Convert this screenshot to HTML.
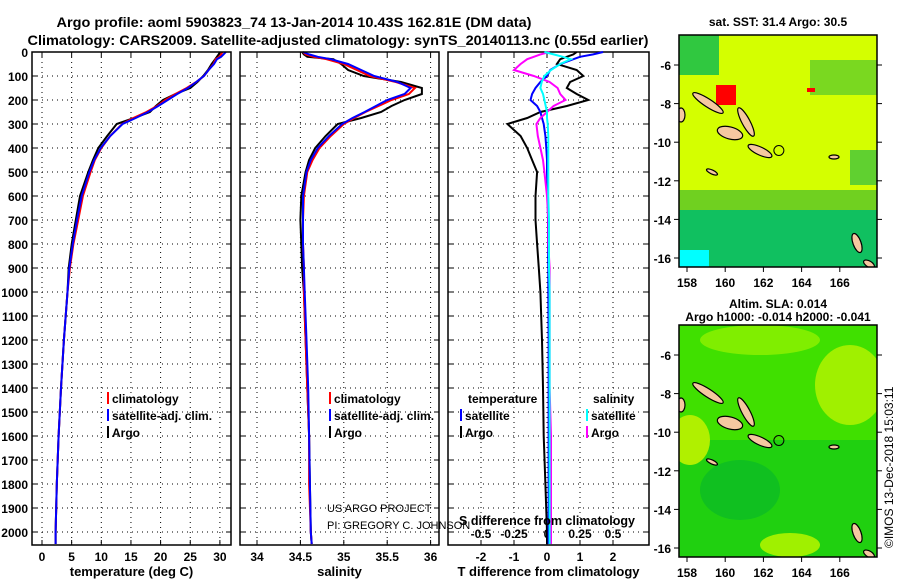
<!DOCTYPE html>
<html><head><meta charset="utf-8"><style>
body{margin:0;background:#fff;}
svg text{font-family:"Liberation Sans",sans-serif;font-weight:bold;fill:#000;}
</style></head><body>
<svg id="s" width="900" height="580" viewBox="0 0 900 580" xmlns="http://www.w3.org/2000/svg">
<text x="294" y="27" font-size="14" text-anchor="middle" textLength="475" lengthAdjust="spacingAndGlyphs">Argo profile: aoml 5903823_74 13-Jan-2014 10.43S 162.81E (DM data)</text>
<text x="338" y="45" font-size="14" text-anchor="middle" textLength="621" lengthAdjust="spacingAndGlyphs">Climatology: CARS2009. Satellite-adjusted climatology: synTS_20140113.nc (0.55d earlier)</text>
<g id="maps"></g>
<g id="plots"></g>
</svg>
<script>
// ---- data ----
const depths   = [0,10,20,30,50,75,100,125,150,175,200,225,250,275,300,350,400,450,500,600,700,800,900,1000,1200,1400,1600,1800,2000,2050];
const tempArgo = [30,29.8,29.5,29.2,28.6,28,27.2,26.2,25,22.5,20.4,19.2,18.2,15.5,12.6,11,9.5,8.6,7.8,6.4,5.7,5.0,4.5,4.3,3.7,3.2,2.8,2.5,2.3,2.3];
const tempClim = [30.4,30.2,29.9,29.3,28.9,28.1,27.3,26,24.4,22.5,20.8,19.4,17.6,15.4,13.5,11.5,10.0,8.9,8.2,6.9,6.1,5.3,4.7,4.3,3.7,3.2,2.8,2.5,2.3,2.3];
const tempSat  = [31,30.6,30.2,29.5,29,28.1,27.3,26,24.6,22.8,21.2,19.6,17.9,15.8,13.6,11.5,9.9,8.8,8.0,6.7,5.9,5.2,4.6,4.3,3.7,3.2,2.8,2.5,2.3,2.3];
const salArgo  = [34.52,34.54,34.58,34.88,34.97,35.05,35.23,35.66,35.9,35.9,35.7,35.55,35.43,35.2,34.93,34.79,34.67,34.6,34.56,34.51,34.5,34.51,34.52,34.54,34.56,34.58,34.6,34.61,34.62,34.63];
const salClim  = [34.53,34.56,34.65,34.8,35.0,35.15,35.3,35.6,35.82,35.75,35.55,35.4,35.25,35.12,35.0,34.85,34.72,34.64,34.58,34.54,34.53,34.53,34.54,34.54,34.56,34.58,34.6,34.6,34.62,34.63];
const salSat   = [34.53,34.6,34.7,34.85,35.05,35.2,35.35,35.62,35.77,35.7,35.5,35.37,35.24,35.1,34.98,34.83,34.7,34.62,34.57,34.53,34.53,34.53,34.54,34.55,34.57,34.59,34.6,34.61,34.62,34.63];
const dTArgo   = [0.9,0.8,0.6,0.4,0.3,0.9,1.1,0.7,0.6,0.9,1.25,0.6,-0.2,-0.6,-1.2,-0.8,-0.6,-0.45,-0.3,-0.35,-0.35,-0.3,-0.25,-0.2,-0.15,-0.12,-0.1,-0.05,0,0];
const dTSat    = [1.7,1.4,1.0,0.8,0.4,0.1,0,-0.2,-0.35,-0.45,-0.5,-0.3,-0.2,-0.15,-0.1,-0.05,-0.02,0,0,0.02,0.03,0.03,0.04,0.04,0.05,0.05,0.05,0.05,0.05,0.05];
const dSArgo   = [0.02,-0.05,-0.1,-0.15,-0.2,-0.25,-0.1,0.02,0.08,0.1,0.14,0.05,0,-0.05,-0.08,-0.07,-0.05,-0.03,-0.02,0,0.01,0.01,0.02,0.02,0.02,0.02,0.03,0.03,0.03,0.03];
const dSSat    = [-0.02,0.05,0.12,0.18,0.1,0.03,-0.02,-0.04,-0.05,-0.03,-0.02,-0.01,0,0,0.005,0.01,0.01,0.01,0.01,0.01,0.015,0.015,0.015,0.02,0.02,0.02,0.02,0.02,0.02,0.02];
const depthTicks = [0,100,200,300,400,500,600,700,800,900,1000,1100,1200,1300,1400,1500,1600,1700,1800,1900,2000];
const tTicks = [0,5,10,15,20,25,30];
const sTicks = [34,34.5,35,35.5,36];
const dTTicks = [-2,-1,0,1,2];
const dSTicks = [-0.5,-0.25,0,0.25,0.5];
const dSLabels = ["-0.5","-0.25","0","0.25","0.5"];

const NS="http://www.w3.org/2000/svg";
function el(tag,attrs,parent,txt){const e=document.createElementNS(NS,tag);for(const k in attrs)e.setAttribute(k,attrs[k]);if(txt!==undefined)e.textContent=txt;parent.appendChild(e);return e;}
const plots=document.getElementById('plots');
const Y=d=>52+d*0.24;
const TOP=52,BOT=545;
const xT=t=>42+t*5.93;
const xS=s=>257+(s-34)*86.8;
const xdT=t=>547+t*33;
const xdS=s=>547+s*132;

depthTicks.forEach(d=>{
  const t=el('text',{x:28,y:Y(d)+5,'font-size':12,'text-anchor':'end'},plots,String(d));
  
  
});

function panel(x0,x1,name,xf,ticks,labels,title,series){
  const g=el('g',{},plots);
  
  
  depthTicks.forEach(d=>{ if(d>0) el('line',{x1:x0,x2:x1,y1:Y(d),y2:Y(d),stroke:'#000','stroke-width':1,'stroke-dasharray':'1,4'},g);
    el('line',{x1:x0,x2:x0+5,y1:Y(d),y2:Y(d),stroke:'#000'},g);
    el('line',{x1:x1-5,x2:x1,y1:Y(d),y2:Y(d),stroke:'#000'},g);});
  ticks.forEach((v,i)=>{const x=xf(v);
    el('line',{x1:x,x2:x,y1:TOP,y2:BOT,stroke:'#000','stroke-dasharray':'1,4'},g);
    el('line',{x1:x,x2:x,y1:BOT,y2:BOT-5,stroke:'#000'},g);
    el('line',{x1:x,x2:x,y1:TOP,y2:TOP+5,stroke:'#000'},g);
    const t=el('text',{x:x,y:561,'font-size':12,'text-anchor':'middle'},g,labels?labels[i]:String(v));
    
    
  });
  series.forEach(s=>{
    const pts=depths.map((d,i)=>xf(s.v[i]).toFixed(1)+','+Y(d).toFixed(1)).join(' ');
    const p=el('polyline',{points:pts,fill:'none',stroke:s.c,'stroke-width':2},g);
    
    
  });
  el('rect',{x:x0,y:TOP,width:x1-x0,height:BOT-TOP,fill:'none',stroke:'#000','stroke-width':1.5},g);
  const tt=el('text',{x:(x0+x1)/2,y:576,'font-size':13,'text-anchor':'middle'},g,title);
  
  
  return g;
}
panel(32,231,'temperature-panel',xT,tTicks,null,'temperature (deg C)',
 [{v:tempArgo,c:'#000',n:'argo-temperature-line'},{v:tempClim,c:'#f00',n:'climatology-temperature-line'},{v:tempSat,c:'#00f',n:'satellite-temperature-line'}]);
panel(240,439,'salinity-panel',xS,sTicks,null,'salinity',
 [{v:salArgo,c:'#000',n:'argo-salinity-line'},{v:salClim,c:'#f00',n:'climatology-salinity-line'},{v:salSat,c:'#00f',n:'satellite-salinity-line'}]);
const p3=panel(448,649,'difference-panel',xdT,dTTicks,null,'T difference from climatology',[]);
dSTicks.forEach((v,i)=>{const t=el('text',{x:xdS(v),y:538,'font-size':12,'text-anchor':'middle'},p3,dSLabels[i]);
 
 });
[{v:dTArgo,f:xdT,c:'#000',n:'argo-t-diff-line'},{v:dTSat,f:xdT,c:'#00f',n:'satellite-t-diff-line'},{v:dSArgo,f:xdS,c:'#f0f',n:'argo-s-diff-line'},{v:dSSat,f:xdS,c:'#0ff',n:'satellite-s-diff-line'}].forEach(s=>{
  const pts=depths.map((d,i)=>s.f(s.v[i]).toFixed(1)+','+Y(d).toFixed(1)).join(' ');
  const p=el('polyline',{points:pts,fill:'none',stroke:s.c,'stroke-width':2},p3);
  
  
});
function legend(x,y,c,txt,g){el('rect',{x:x,y:y-11,width:2,height:12,fill:c},g);const t=el('text',{x:x+5,y:y,'font-size':12},g,txt);
 
 }
legend(107,403,'#f00','climatology',plots);legend(107,420,'#00f','satellite-adj. clim.',plots);legend(107,437,'#000','Argo',plots);
legend(329,403,'#f00','climatology',plots);legend(329,420,'#00f','satellite-adj. clim.',plots);legend(329,437,'#000','Argo',plots);
el('text',{x:468,y:403,'font-size':12},plots,'temperature');
legend(460,420,'#00f','satellite',plots);legend(460,437,'#000','Argo',plots);
el('text',{x:593,y:403,'font-size':12},plots,'salinity');
legend(586,420,'#0ff','satellite',plots);legend(586,437,'#f0f','Argo',plots);
el('text',{x:459,y:525,'font-size':12.5,textLength:176,lengthAdjust:'spacingAndGlyphs'},plots,'S difference from climatology');
const c1=el('text',{x:327,y:512,'font-size':11,style:'font-weight:normal'},plots,'US ARGO PROJECT');


el('text',{x:327,y:529,'font-size':11,style:'font-weight:normal'},plots,'PI: GREGORY C. JOHNSON');

// ---- maps ----
const maps=document.getElementById('maps');
const lonTicks=[158,160,162,164,166];
const latTicks=[-6,-8,-10,-12,-14,-16];
function mapPanel(y0,name,base,patches,title1,title2){
  const g=el('g',{},maps);
  
  
  const X=l=>687+(l-158)*19.1, YY=a=>y0+30+(-6-a)*19.3;
  const cid='clip'+y0;
  const cp=el('clipPath',{id:cid},g);el('rect',{x:679,y:y0,width:198,height:232},cp);
  const inner=el('g',{'clip-path':'url(#'+cid+')'},g);
  el('rect',{x:679,y:y0,width:198,height:232,fill:base},inner);
  patches.forEach(p=>el(p[0],p[1],inner));
  // islands: [cx, cy offset from map top, rx, ry, angle]
  const isl=[[708,68,18,4,33],[746,87,16,4,62],[730,98,13,6,15],[760,116,13,4,25],[681,80,4,7,0],[857,208,10,4,70],[869,229,6,3,30],[834,122,5,2,0],[712,137,6,2,25]];
  isl.forEach(i=>el('ellipse',{cx:i[0],cy:y0+i[1],rx:i[2],ry:i[3],transform:'rotate('+i[4]+' '+i[0]+' '+(y0+i[1])+')',fill:'#f5c8a0',stroke:'#000','stroke-width':1.2},inner));
  el('circle',{cx:X(162.81),cy:YY(-10.43),r:5,fill:'none',stroke:'#000'},inner);
  el('rect',{x:679,y:y0,width:198,height:232,fill:'none',stroke:'#000','stroke-width':1.5},g);
  lonTicks.forEach(l=>{el('line',{x1:X(l),x2:X(l),y1:y0+232,y2:y0+237,stroke:'#000'},g);
    const t=el('text',{x:X(l),y:y0+252,'font-size':12,'text-anchor':'middle'},g,String(l));
    
    });
  latTicks.forEach(a=>{el('line',{x1:674,x2:679,y1:YY(a),y2:YY(a),stroke:'#000'},g);el('line',{x1:877,x2:882,y1:YY(a),y2:YY(a),stroke:'#000'},g);
    const t=el('text',{x:671,y:YY(a)+5,'font-size':12,'text-anchor':'end'},g,String(a));
    
    });
  el('text',{x:778,y:title2?y0-17:y0-9,'font-size':12,'text-anchor':'middle'},g,title1);
  if(title2) el('text',{x:778,y:y0-4,'font-size':12,'text-anchor':'middle'},g,title2);
}
mapPanel(35,'sst-map','#d4ff00',[
 ['rect',{x:679,y:35,width:40,height:40,fill:'#30c840'}],
 ['rect',{x:810,y:60,width:67,height:35,fill:'#7ad820'}],
 ['rect',{x:679,y:190,width:198,height:25,fill:'#70d020'}],
 ['rect',{x:679,y:210,width:198,height:57,fill:'#10c060'}],
 ['rect',{x:679,y:250,width:30,height:17,fill:'#00ffff'}],
 ['rect',{x:716,y:85,width:20,height:20,fill:'#ff0000'}],
 ['rect',{x:807,y:88,width:8,height:4,fill:'#ff0000'}],
 ['rect',{x:850,y:150,width:27,height:35,fill:'#60d030'}]
],'sat. SST: 31.4 Argo: 30.5');
mapPanel(325,'sla-map','#40e000',[
 ['rect',{x:679,y:440,width:198,height:117,fill:'#20d010'}],
 ['ellipse',{cx:850,cy:385,rx:35,ry:40,fill:'#a0f000'}],
 ['ellipse',{cx:760,cy:340,rx:60,ry:15,fill:'#80ee00'}],
 ['ellipse',{cx:690,cy:440,rx:20,ry:25,fill:'#b0f000'}],
 ['ellipse',{cx:790,cy:545,rx:30,ry:12,fill:'#a0f000'}],
 ['ellipse',{cx:740,cy:490,rx:40,ry:30,fill:'#10c020'}]
],'Altim. SLA: 0.014','Argo h1000: -0.014 h2000: -0.041');
const ts=el('text',{x:0,y:0,'font-size':12,style:'font-weight:normal',transform:'translate(893,548) rotate(-90)'},maps,'©IMOS 13-Dec-2018 15:03:11');


</script>
</body></html>
